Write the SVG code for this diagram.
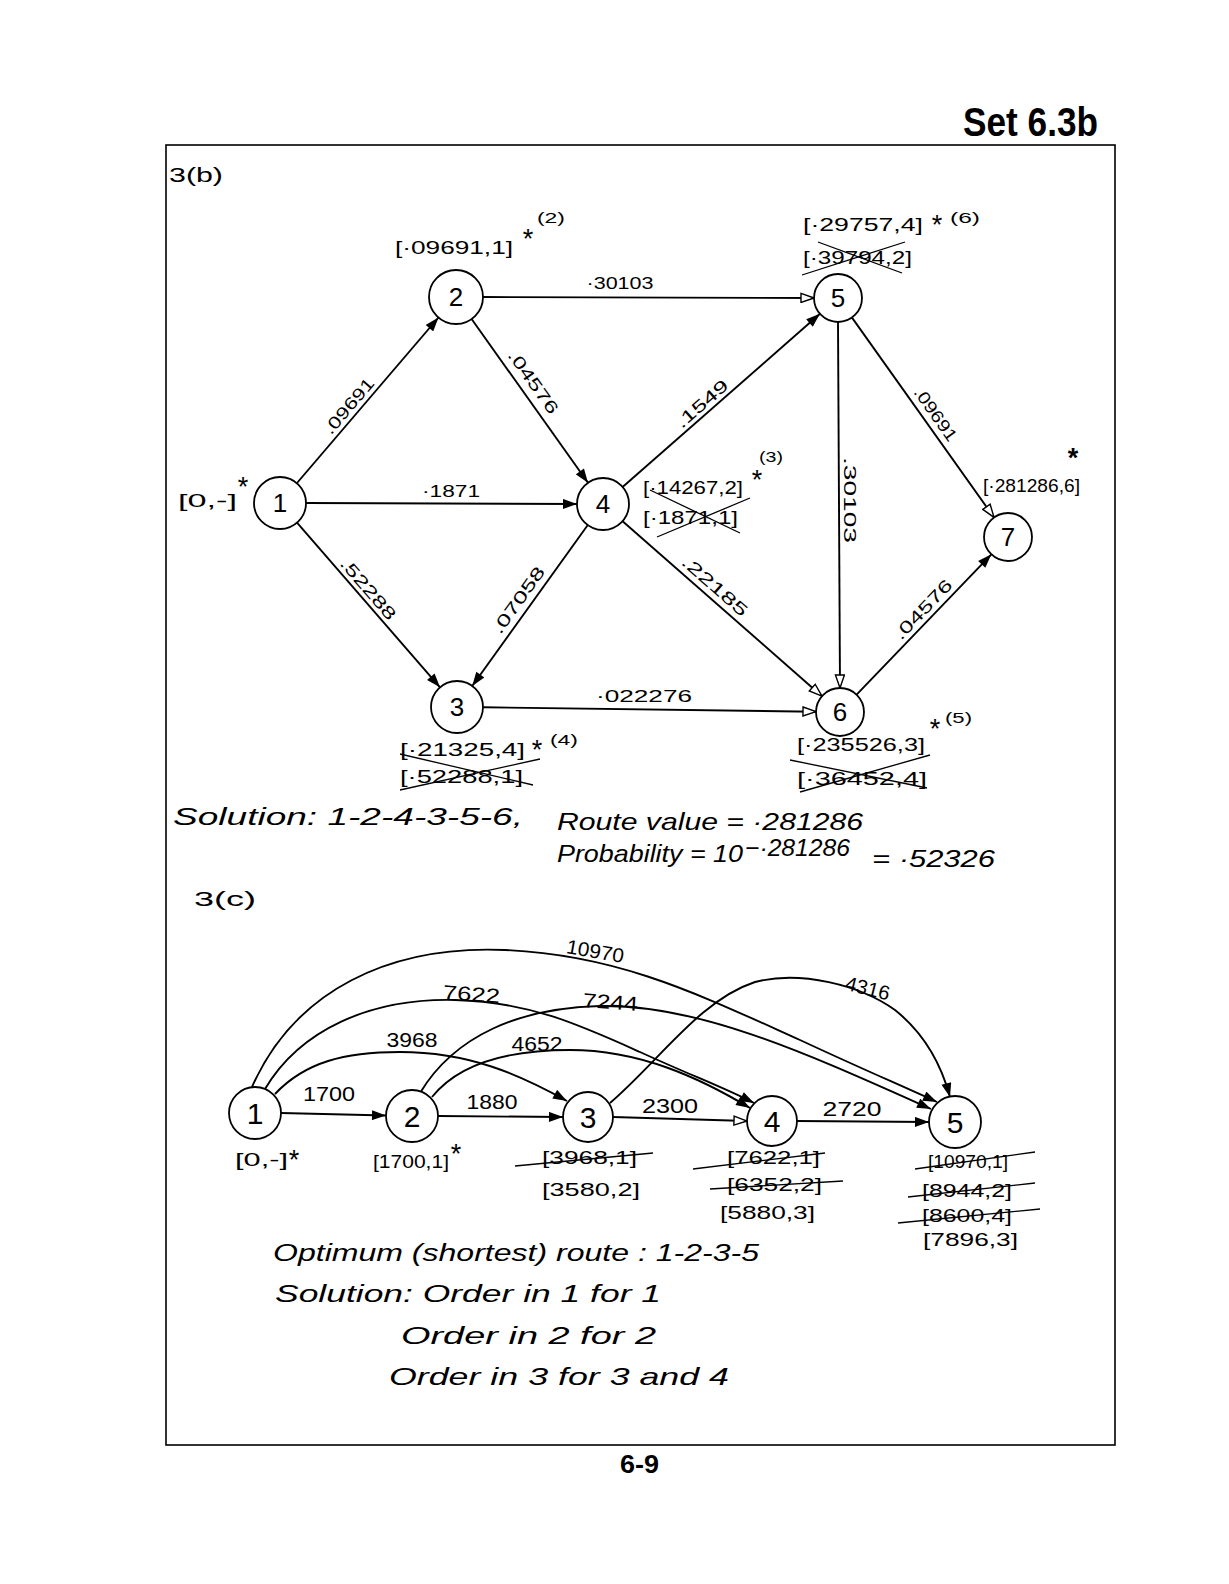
<svg xmlns="http://www.w3.org/2000/svg" width="1229" height="1584" viewBox="0 0 1229 1584">
<style>
.bg{fill:#fff}
.fr{fill:none;stroke:#000;stroke-width:1.6}
.ln{fill:none;stroke:#000;stroke-width:1.9}
.x{fill:none;stroke:#000;stroke-width:1.3}
.nd{fill:#fff;stroke:#000;stroke-width:1.8}
text{font-family:"Liberation Sans",Arial,sans-serif;fill:#000}
.num{font-size:26px;text-anchor:middle}
.numc{font-size:30px;text-anchor:middle}
.el{font-size:17px;text-anchor:middle}
.elc{font-size:20px;text-anchor:middle}
.nl{font-size:19px}
.sup{font-size:15px}
.ast{font-size:27px;text-anchor:middle}
.cur{font-style:italic;font-size:24px}
.hd{font-weight:bold}
</style>
<defs>
<marker id="af" viewBox="0 0 14 10" refX="14" refY="5" markerWidth="15" markerHeight="10" orient="auto" markerUnits="userSpaceOnUse"><path d="M0,0 L14,5 L0,10 z" fill="#000"/></marker>
<marker id="ao" viewBox="0 0 15 11" refX="14" refY="5.5" markerWidth="15" markerHeight="11" orient="auto" markerUnits="userSpaceOnUse"><path d="M1,1 L14,5.5 L1,10 z" fill="#fff" stroke="#000" stroke-width="1.4"/></marker>
</defs>
<rect class="bg" x="0" y="0" width="1229" height="1584"/>
<g id="page">
<text class="hd" x="963" y="136" font-size="40" textLength="135" lengthAdjust="spacingAndGlyphs">Set 6.3b</text>
<rect class="fr" x="166" y="145" width="949" height="1300"/>
<text class="hd" x="620" y="1473" font-size="26" textLength="39" lengthAdjust="spacingAndGlyphs">6-9</text>
<text x="169" y="182" font-size="21" textLength="54" lengthAdjust="spacingAndGlyphs">3(b)</text>
<text x="194" y="906" font-size="21" textLength="62" lengthAdjust="spacingAndGlyphs">3(c)</text>
</g>

<g id="connectors">
<!-- 3(b) -->
<line class="ln" x1="297" y1="483" x2="438.5" y2="317.5" marker-end="url(#af)"/>
<line class="ln" x1="306" y1="503" x2="577" y2="504" marker-end="url(#af)"/>
<line class="ln" x1="297" y1="522.7" x2="440" y2="687.3" marker-end="url(#af)"/>
<line class="ln" x1="483" y1="297" x2="814" y2="298" marker-end="url(#ao)"/>
<line class="ln" x1="471.6" y1="319" x2="588" y2="482.8" marker-end="url(#af)"/>
<line class="ln" x1="622.6" y1="487" x2="820" y2="313.8" marker-end="url(#af)"/>
<line class="ln" x1="587.8" y1="525" x2="472.2" y2="686" marker-end="url(#af)"/>
<line class="ln" x1="622.6" y1="521.2" x2="822" y2="696.2" marker-end="url(#ao)"/>
<line class="ln" x1="838" y1="322" x2="840" y2="688" marker-end="url(#ao)"/>
<line class="ln" x1="852" y1="317.6" x2="994" y2="517.4" marker-end="url(#ao)"/>
<line class="ln" x1="856.6" y1="694.7" x2="991.4" y2="554.3" marker-end="url(#af)"/>
<line class="ln" x1="483" y1="707.3" x2="816" y2="711.7" marker-end="url(#ao)"/>
<text class="el" transform="translate(357,413) rotate(-49.5)" y="-5" textLength="68" lengthAdjust="spacingAndGlyphs">.09691</text>
<text class="el" x="451" y="497" textLength="58" lengthAdjust="spacingAndGlyphs">·1871</text>
<text class="el" transform="translate(360,596) rotate(49.1)" y="-5" textLength="76" lengthAdjust="spacingAndGlyphs">.52288</text>
<text class="el" x="620" y="289" textLength="67" lengthAdjust="spacingAndGlyphs">·30103</text>
<text class="el" transform="translate(522,390) rotate(54.6)" y="-8" textLength="74" lengthAdjust="spacingAndGlyphs">.04576</text>
<text class="el" transform="translate(709,412) rotate(-41.2)" y="-5" textLength="64" lengthAdjust="spacingAndGlyphs">.1549</text>
<text class="el" transform="translate(528,607) rotate(-54.3)" y="-6" textLength="78" lengthAdjust="spacingAndGlyphs">.07058</text>
<text class="el" transform="translate(707,595) rotate(41.3)" y="-6" textLength="82" lengthAdjust="spacingAndGlyphs">.22185</text>
<text class="el" transform="translate(839,500) rotate(90)" y="-5" textLength="86" lengthAdjust="spacingAndGlyphs">.30103</text>
<text class="el" transform="translate(926,421) rotate(54.6)" y="-6" textLength="62" lengthAdjust="spacingAndGlyphs">.09691</text>
<text class="el" transform="translate(931,617) rotate(-46.2)" y="-5" textLength="76" lengthAdjust="spacingAndGlyphs">.04576</text>
<text class="el" x="644" y="702" textLength="96" lengthAdjust="spacingAndGlyphs">·022276</text>

<!-- 3(c) -->
<line class="ln" x1="281" y1="1113" x2="386" y2="1115.5" marker-end="url(#af)"/>
<line class="ln" x1="438" y1="1116" x2="563" y2="1117" marker-end="url(#af)"/>
<line class="ln" x1="613" y1="1117" x2="747" y2="1121" marker-end="url(#ao)"/>
<line class="ln" x1="797" y1="1121" x2="929" y2="1122" marker-end="url(#af)"/>
<path class="ln" d="M252,1087 C295,990 390,945 505,950 C620,955 700,995 800,1040 C860,1068 900,1085 937,1102" marker-end="url(#af)"/>
<path class="ln" d="M265,1089 C300,1030 370,998 455,1000 C530,1002 580,1025 640,1052 C690,1075 725,1088 754,1103" marker-end="url(#af)"/>
<path class="ln" d="M275,1094 C305,1062 345,1052 400,1052 C470,1052 520,1075 567,1101" marker-end="url(#af)"/>
<path class="ln" d="M420,1093 C455,1035 520,1008 600,1006 C700,1004 810,1055 931,1109" marker-end="url(#af)"/>
<path class="ln" d="M432,1097 C460,1062 510,1050 570,1050 C640,1050 700,1078 750,1108" marker-end="url(#af)"/>
<path class="ln" d="M610,1103 C660,1060 700,1000 755,982 C800,970 860,985 895,1010 C920,1030 940,1060 950,1097" marker-end="url(#af)"/>
<text class="elc" x="329" y="1101" textLength="52" lengthAdjust="spacingAndGlyphs">1700</text>
<text class="elc" x="492" y="1109" textLength="51" lengthAdjust="spacingAndGlyphs">1880</text>
<text class="elc" x="670" y="1113" textLength="56" lengthAdjust="spacingAndGlyphs">2300</text>
<text class="elc" x="852" y="1116" textLength="59" lengthAdjust="spacingAndGlyphs">2720</text>
<text class="elc" transform="translate(594,958) rotate(10)" textLength="58" lengthAdjust="spacingAndGlyphs">10970</text>
<text class="elc" transform="translate(471,1001) rotate(4)" textLength="57" lengthAdjust="spacingAndGlyphs">7622</text>
<text class="elc" x="412" y="1047" textLength="51" lengthAdjust="spacingAndGlyphs">3968</text>
<text class="elc" transform="translate(610,1009) rotate(4)" textLength="55" lengthAdjust="spacingAndGlyphs">7244</text>
<text class="elc" x="537" y="1051" textLength="51" lengthAdjust="spacingAndGlyphs">4652</text>
<text class="elc" transform="translate(866,995) rotate(14)" textLength="45" lengthAdjust="spacingAndGlyphs">4316</text>
</g>

<!-- 3(b) nodes -->
<g id="b1">
<circle class="nd" cx="280" cy="503" r="26"/>
<text class="num" x="280" y="512">1</text>
<text class="nl" x="178" y="507" textLength="59" lengthAdjust="spacingAndGlyphs">[0,-]</text>
<text class="ast" x="243" y="496">*</text>
</g>
<g id="b2">
<circle class="nd" cx="456" cy="297" r="27"/>
<text class="num" x="456" y="306">2</text>
<text class="nl" x="395" y="254" textLength="118" lengthAdjust="spacingAndGlyphs">[·09691,1]</text>
<text class="ast" x="528" y="248">*</text>
<text class="sup" x="537" y="223" textLength="28" lengthAdjust="spacingAndGlyphs">(2)</text>
</g>
<g id="b3">
<circle class="nd" cx="457" cy="707" r="26"/>
<text class="num" x="457" y="716">3</text>
<text class="nl" x="400" y="756" textLength="125" lengthAdjust="spacingAndGlyphs">[·21325,4]</text>
<text class="ast" x="537" y="759">*</text>
<text class="sup" x="550" y="745" textLength="28" lengthAdjust="spacingAndGlyphs">(4)</text>
<text class="nl" x="400" y="783" textLength="123" lengthAdjust="spacingAndGlyphs">[·52288,1]</text>
<line class="x" x1="400" y1="790" x2="540" y2="759"/>
<line class="x" x1="400" y1="754" x2="533" y2="785"/>
</g>
<g id="b4">
<circle class="nd" cx="603" cy="504" r="26"/>
<text class="num" x="603" y="513">4</text>
<text class="nl" x="643" y="494" textLength="100" lengthAdjust="spacingAndGlyphs">[·14267,2]</text>
<text class="ast" x="757" y="489">*</text>
<text class="sup" x="759" y="462" textLength="24" lengthAdjust="spacingAndGlyphs">(3)</text>
<text class="nl" x="643" y="524" textLength="95" lengthAdjust="spacingAndGlyphs">[·1871,1]</text>
<line class="x" x1="657" y1="537" x2="750" y2="498"/>
<line class="x" x1="650" y1="490" x2="740" y2="533"/>
</g>
<g id="b5">
<circle class="nd" cx="838" cy="298" r="24"/>
<text class="num" x="838" y="307">5</text>
<text class="nl" x="803" y="231" textLength="120" lengthAdjust="spacingAndGlyphs">[·29757,4]</text>
<text class="ast" x="937" y="234">*</text>
<text class="sup" x="950" y="223" textLength="30" lengthAdjust="spacingAndGlyphs">(6)</text>
<text class="nl" x="803" y="264" textLength="109" lengthAdjust="spacingAndGlyphs">[·39794,2]</text>
<line class="x" x1="802" y1="275" x2="905" y2="242"/>
<line class="x" x1="818" y1="242" x2="902" y2="273"/>
</g>
<g id="b6">
<circle class="nd" cx="840" cy="712" r="24"/>
<text class="num" x="840" y="721">6</text>
<text class="nl" x="797" y="751" textLength="128" lengthAdjust="spacingAndGlyphs">[·235526,3]</text>
<text class="ast" x="935" y="738">*</text>
<text class="sup" x="945" y="723" textLength="27" lengthAdjust="spacingAndGlyphs">(5)</text>
<text class="nl" x="797" y="785" textLength="130" lengthAdjust="spacingAndGlyphs">[·36452,4]</text>
<line class="x" x1="800" y1="792" x2="930" y2="755"/>
<line class="x" x1="790" y1="760" x2="927" y2="788"/>
</g>
<g id="b7">
<circle class="nd" cx="1008" cy="537" r="24"/>
<text class="num" x="1008" y="546">7</text>
<text class="nl" x="983" y="492" textLength="97" lengthAdjust="spacingAndGlyphs">[·281286,6]</text>
<text class="ast" x="1073" y="467" font-size="24" font-weight="bold">*</text>
</g>

<g id="solution-b">
<text class="cur" x="173" y="825" textLength="350" lengthAdjust="spacingAndGlyphs">Solution: 1-2-4-3-5-6,</text>
<text class="cur" x="557" y="830" font-size="21" textLength="306" lengthAdjust="spacingAndGlyphs">Route value = ·281286</text>
<text class="cur" x="557" y="862" font-size="21" textLength="186" lengthAdjust="spacingAndGlyphs">Probability = 10</text>
<text class="cur" x="745" y="856" font-size="19" textLength="105" lengthAdjust="spacingAndGlyphs">−·281286</text>
<text class="cur" x="872" y="867" font-size="21" textLength="123" lengthAdjust="spacingAndGlyphs">= ·52326</text>
</g>

<!-- 3(c) nodes -->
<g id="c1">
<circle class="nd" cx="255" cy="1113" r="26"/>
<text class="numc" x="255" y="1124">1</text>
<text class="nl" x="235" y="1166" textLength="53" lengthAdjust="spacingAndGlyphs">[0,-]</text>
<text class="ast" x="294" y="1169">*</text>
</g>
<g id="c2">
<circle class="nd" cx="412" cy="1116" r="26"/>
<text class="numc" x="412" y="1127">2</text>
<text class="nl" x="373" y="1168" textLength="76" lengthAdjust="spacingAndGlyphs">[1700,1]</text>
<text class="ast" x="456" y="1163">*</text>
</g>
<g id="c3">
<circle class="nd" cx="588" cy="1117" r="25"/>
<text class="numc" x="588" y="1128">3</text>
<text class="nl" x="542" y="1164" textLength="95" lengthAdjust="spacingAndGlyphs">[3968,1]</text>
<line class="x" x1="515" y1="1166" x2="653" y2="1153"/>
<text class="nl" x="542" y="1196" textLength="98" lengthAdjust="spacingAndGlyphs">[3580,2]</text>
</g>
<g id="c4">
<circle class="nd" cx="772" cy="1121" r="25"/>
<text class="numc" x="772" y="1132">4</text>
<text class="nl" x="727" y="1164" textLength="93" lengthAdjust="spacingAndGlyphs">[7622,1]</text>
<line class="x" x1="693" y1="1169" x2="825" y2="1153"/>
<text class="nl" x="727" y="1191" textLength="95" lengthAdjust="spacingAndGlyphs">[6352,2]</text>
<line class="x" x1="710" y1="1189" x2="843" y2="1181"/>
<text class="nl" x="720" y="1219" textLength="95" lengthAdjust="spacingAndGlyphs">[5880,3]</text>
</g>
<g id="c5">
<circle class="nd" cx="955" cy="1122" r="26"/>
<text class="numc" x="955" y="1133">5</text>
<text class="nl" x="928" y="1168" textLength="80" lengthAdjust="spacingAndGlyphs">[10970,1]</text>
<line class="x" x1="915" y1="1169" x2="1035" y2="1152"/>
<text class="nl" x="922" y="1197" textLength="90" lengthAdjust="spacingAndGlyphs">[8944,2]</text>
<line class="x" x1="908" y1="1197" x2="1035" y2="1183"/>
<text class="nl" x="922" y="1222" textLength="90" lengthAdjust="spacingAndGlyphs">[8600,4]</text>
<line class="x" x1="898" y1="1223" x2="1040" y2="1209"/>
<text class="nl" x="923" y="1246" textLength="95" lengthAdjust="spacingAndGlyphs">[7896,3]</text>
</g>

<g id="solution-c">
<text class="cur" x="273" y="1261" font-size="27" textLength="486" lengthAdjust="spacingAndGlyphs">Optimum (shortest) route : 1-2-3-5</text>
<text class="cur" x="275" y="1302" font-size="27" textLength="386" lengthAdjust="spacingAndGlyphs">Solution: Order in 1 for 1</text>
<text class="cur" x="401" y="1344" font-size="27" textLength="255" lengthAdjust="spacingAndGlyphs">Order in 2 for 2</text>
<text class="cur" x="389" y="1385" font-size="27" textLength="340" lengthAdjust="spacingAndGlyphs">Order in 3 for 3 and 4</text>
</g>
</svg>
